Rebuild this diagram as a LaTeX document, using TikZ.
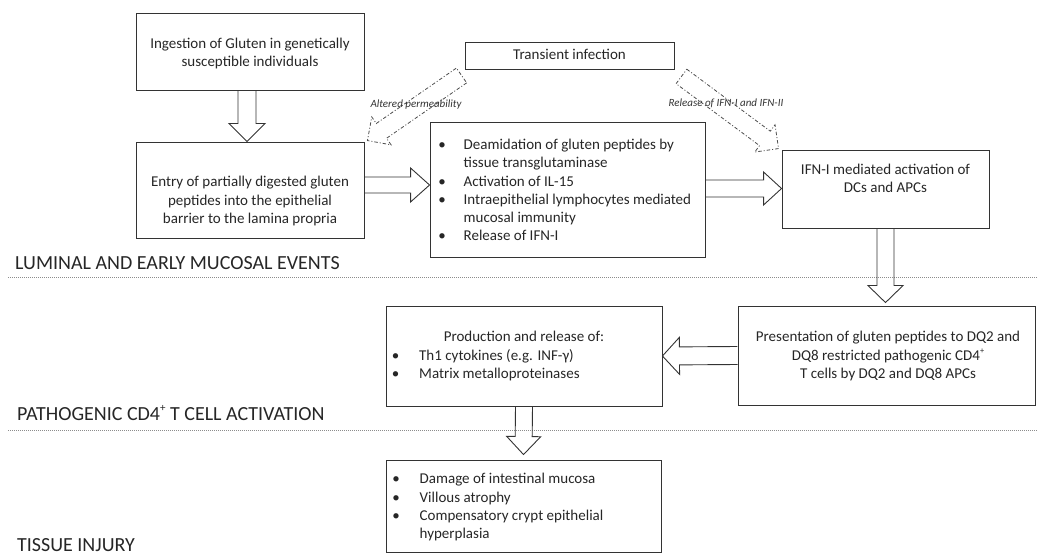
\documentclass[tikz,border=0pt]{standalone}
\usepackage{fontspec}
\setmainfont{Carlito}
\usetikzlibrary{calc}
\newcommand\bi{\makebox[0pt]{\textbullet}\hspace{21.5pt}}
\newcommand\bj{\makebox[0pt]{\textbullet}\hspace{23.5pt}}
\newcommand\ci{\hspace{21.5pt}}
\newcommand\cj{\hspace{23.5pt}}
\newcommand\smplus{\raisebox{0.42em}{\fontsize{0.55em}{0.6em}\selectfont +}}
\newcommand\blkarrow[6][]{%
  \coordinate (hb) at ($(#3)!#6!(#2)$);
  \draw[#1] ($(#2)!#4!90:(#3)$) -- ($(hb)!#4!-90:(#2)$) -- ($(hb)!#5!-90:(#2)$) -- (#3)
    -- ($(hb)!#5!90:(#2)$) -- ($(hb)!#4!90:(#2)$) -- ($(#2)!#4!-90:(#3)$);}
\newcommand\dblkarrow[6][]{%
  \coordinate (hb) at ($(#3)!#6!(#2)$);
  \draw[#1] ($(#2)!#4!90:(#3)$) -- ($(hb)!#4!-90:(#2)$) -- ($(hb)!#5!-90:(#2)$) -- (#3)
    -- ($(hb)!#5!90:(#2)$) -- ($(hb)!#4!90:(#2)$) -- ($(#2)!#4!-90:(#3)$) -- cycle;}
\tikzset{
  box/.style={draw=black!80, line width=0.9pt, inner sep=0pt},
  txt/.style={font=\fontsize{15}{18.3}\selectfont, text=black!85, align=center, inner sep=0pt},
  lst/.style={font=\fontsize{15}{18.3}\selectfont, text=black!85, align=left, inner sep=0pt, anchor=west},
  sect/.style={font=\fontsize{20}{24}\selectfont, text=black!85, anchor=base west, inner sep=0pt},
  lbl/.style={font=\fontsize{11}{13}\selectfont\itshape, text=black!80, inner sep=0pt},
  sepline/.style={draw=black!45, line width=0.6pt, dash pattern=on 1pt off 1pt},
  blk/.style={draw=black!80, line width=0.9pt, line join=miter},
  dblk/.style={draw=black!70, line width=0.8pt, line join=miter, dash pattern=on 3.5pt off 2pt on 1pt off 2pt},
}
\begin{document}
\begin{tikzpicture}[x=1pt, y=-1pt]
\useasboundingbox (0,0) rectangle (1037,556);
% boxes
\node[box, minimum width=228, minimum height=77] (ingest) at (250,51.5) {};
\node[box, minimum width=228, minimum height=96] (entry) at (250,190) {};
\node[box, minimum width=209, minimum height=27] (trans) at (569.5,55.5) {};
\node[box, minimum width=275, minimum height=135] (deam) at (567.5,189.5) {};
\node[box, minimum width=207, minimum height=78] (ifn) at (885.5,189) {};
\node[box, minimum width=297, minimum height=99] (pres) at (886.5,355.5) {};
\node[box, minimum width=276, minimum height=100] (prod) at (524,356) {};
\node[box, minimum width=275, minimum height=92] (dam) at (523.5,506) {};
% texts
\node[txt] (ingestt) at (250,54) {\strut Ingestion of Gluten in genetically\\\strut susceptible individuals};
\node[txt] (entryt) at (250,201.5) {\strut Entry of partially digested gluten\\\strut peptides into the epithelial\\\strut barrier to the lamina propria};
\node[txt] (transt) at (569.5,56) {\strut Transient infection};
\node[lst] (deamt) at (442,191.5) {\strut\bi Deamidation of gluten peptides by\\\strut\ci tissue transglutaminase\\\strut\bi Activation of IL-15\\\strut\bi Intraepithelial lymphocytes mediated\\\strut\ci mucosal immunity\\\strut\bi Release of IFN-I};
\node[txt] (ifnt) at (885.5,180) {\strut IFN-I mediated activation of\\\strut DCs and APCs};
\node[txt] (prest) at (888,356.5) {\strut Presentation of gluten peptides to DQ2 and\\\strut DQ8 restricted pathogenic CD4\smplus\\\strut T cells by DQ2 and DQ8 APCs};
\node[txt] (prodh) at (524,338) {\strut Production and release of:};
\node[lst] (prodt) at (395.5,366) {\strut\bj Th1 cytokines (e.g. INF-γ)\\\strut\bj Matrix metalloproteinases};
\node[lst] (damt) at (396,507.5) {\strut\bj Damage of intestinal mucosa\\\strut\bj Villous atrophy\\\strut\bj Compensatory crypt epithelial\\\strut\cj hyperplasia};
% section separators and labels
\coordinate (s1a) at (8,277); \coordinate (s1b) at (1037,277);
\coordinate (s2a) at (8,430.5); \coordinate (s2b) at (1037,430.5);
\draw[sepline] (s1a) -- (s1b);
\draw[sepline] (s2a) -- (s2b);
\node[sect] (sec1) at (15,270) {LUMINAL AND EARLY MUCOSAL EVENTS};
\node[sect] (sec2) at (17,420) {PATHOGENIC CD4\smplus\ T CELL ACTIVATION};
\node[sect] (sec3) at (17,551) {TISSUE INJURY};
% block arrows
\coordinate (a1s) at ($(ingest.south)+(-3,0)$);
\coordinate (a1e) at ($(entry.north)+(-3,0)$);
\blkarrow[blk]{a1s}{a1e}{9pt}{18pt}{18pt}
\coordinate (a2s) at ($(entry.east)+(0,-5)$);
\coordinate (a2e) at ($(deam.west)+(0,-4.5)$);
\blkarrow[blk]{a2s}{a2e}{8pt}{17pt}{19pt}
\coordinate (a3s) at ($(deam.east)+(0,-1)$);
\coordinate (a3e) at ($(ifn.west)+(0,-0.5)$);
\blkarrow[blk]{a3s}{a3e}{8.5pt}{16.5pt}{18pt}
\coordinate (a4s) at (ifn.south);
\coordinate (a4e) at ($(ifn.south |- pres.north)+(0,-3)$);
\blkarrow[blk]{a4s}{a4e}{8.5pt}{17.5pt}{17pt}
\coordinate (a5s) at (pres.west);
\coordinate (a5e) at (prod.east);
\blkarrow[blk]{a5s}{a5e}{9pt}{18.5pt}{17pt}
\coordinate (a6s) at (prod.south);
\coordinate (a6e) at ($(dam.north)+(0,-5)$);
\blkarrow[blk]{a6s}{a6e}{8.5pt}{17pt}{18pt}
% dash-dot block arrows
\coordinate (d1s) at ($(trans.south west)+(-3,6)$);
\coordinate (d1e) at ($(entry.north east)+(3,-1)$);
\dblkarrow[dblk]{d1s}{d1e}{9pt}{17pt}{17pt}
\coordinate (d2s) at ($(trans.south east)+(7,7)$);
\coordinate (d2e) at ($(ifn.north west)+(-3,-1)$);
\dblkarrow[dblk]{d2s}{d2e}{9pt}{17pt}{17pt}
\node[lbl] (l1) at (416,105) {Altered permeability};
\node[lbl] (l2) at (726,103) {Release of IFN-I and IFN-II};
\end{tikzpicture}
\end{document}
